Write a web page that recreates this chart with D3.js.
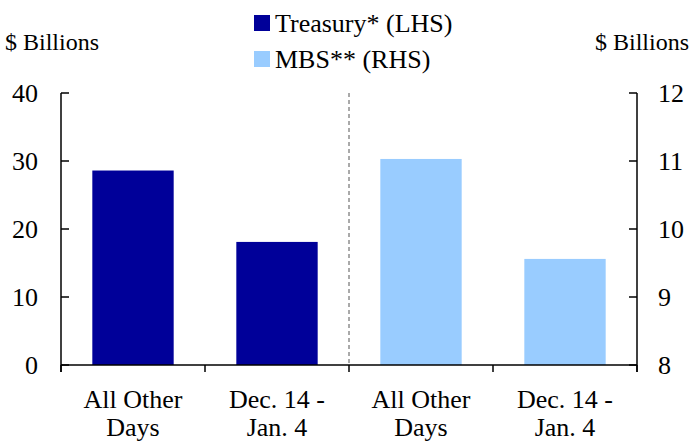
<!DOCTYPE html>
<html>
<head>
<meta charset="utf-8">
<script src="https://cdn.jsdelivr.net/npm/d3@7"></script>
</head>
<body style="margin:0">
<script>
// data
var categories = ["All Other Days", "Dec. 14 - Jan. 4"];
var categoryLines = [["All Other", "Days"], ["Dec. 14 -", "Jan. 4"]];
var treasury = [28.6, 18.1];   // LHS, $ billions
var mbs = [11.03, 9.56];       // RHS, $ billions
var leftTicks = [0, 10, 20, 30, 40];
var rightTicks = [8, 9, 10, 11, 12];
var seriesNames = ["Treasury* (LHS)", "MBS** (RHS)"];
var seriesColors = ["#000099", "#99ccff"];

var width = 689, height = 441;
var margin = { top: 93, right: 52, bottom: 76, left: 61 };
var fontFam = "'Times New Roman', 'Liberation Serif', Tinos, Times, serif";

var svg = d3.select("body").append("svg")
  .attr("width", width)
  .attr("height", height);

// one band per bar: treasury pair then mbs pair
var slots = [];
categories.forEach(function(c, i) {
  slots.push({ key: "t" + i, label: categoryLines[i], value: treasury[i], series: 0 });
});
categories.forEach(function(c, i) {
  slots.push({ key: "m" + i, label: categoryLines[i], value: mbs[i], series: 1 });
});

var x = d3.scaleBand()
  .domain(slots.map(function(d) { return d.key; }))
  .range([margin.left, width - margin.right])
  .padding(0);

var yL = d3.scaleLinear().domain([0, 40]).range([height - margin.bottom, margin.top]);
var yR = d3.scaleLinear().domain([8, 12]).range([height - margin.bottom, margin.top]);

var barW = x.bandwidth() * 0.565;

// bars
svg.selectAll(".bar")
  .data(slots)
  .enter()
  .append("rect")
  .attr("class", "bar")
  .attr("x", function(d) { return x(d.key) + (x.bandwidth() - barW) / 2; })
  .attr("width", barW)
  .attr("y", function(d) { return d.series === 0 ? yL(d.value) : yR(d.value); })
  .attr("height", function(d) {
    return d.series === 0 ? yL(0) - yL(d.value) : yR(8) - yR(d.value);
  })
  .attr("fill", function(d) { return seriesColors[d.series]; });

// dashed divider between the two groups
var midX = x("m0");
svg.append("line")
  .attr("x1", midX).attr("x2", midX)
  .attr("y1", margin.top).attr("y2", yL(0))
  .attr("stroke", "#555")
  .attr("stroke-width", 1)
  .attr("stroke-dasharray", "4,3");

// left axis
var x0 = margin.left, x1 = width - margin.right, y0 = yL(0);
svg.append("line")
  .attr("x1", x0).attr("x2", x0)
  .attr("y1", margin.top).attr("y2", y0 + 7)
  .attr("stroke", "#000").attr("stroke-width", 1.5);
svg.selectAll(".ltick")
  .data(leftTicks)
  .enter()
  .append("line")
  .attr("x1", x0).attr("x2", x0 + 8)
  .attr("y1", function(d) { return yL(d); })
  .attr("y2", function(d) { return yL(d); })
  .attr("stroke", "#000").attr("stroke-width", 1.5);
svg.selectAll(".llabel")
  .data(leftTicks)
  .enter()
  .append("text")
  .attr("x", 38)
  .attr("y", function(d) { return yL(d); })
  .attr("dy", "0.33em")
  .attr("text-anchor", "end")
  .attr("font-family", fontFam)
  .style("font-family", fontFam)
  .style("font-size", "26px")
  .text(function(d) { return d; });

// right axis
svg.append("line")
  .attr("x1", x1).attr("x2", x1)
  .attr("y1", margin.top).attr("y2", y0 + 7)
  .attr("stroke", "#000").attr("stroke-width", 1.5);
svg.selectAll(".rtick")
  .data(rightTicks)
  .enter()
  .append("line")
  .attr("x1", x1 - 8).attr("x2", x1)
  .attr("y1", function(d) { return yR(d); })
  .attr("y2", function(d) { return yR(d); })
  .attr("stroke", "#000").attr("stroke-width", 1.5);
svg.selectAll(".rlabel")
  .data(rightTicks)
  .enter()
  .append("text")
  .attr("x", 658)
  .attr("y", function(d) { return yR(d); })
  .attr("dy", "0.33em")
  .attr("text-anchor", "start")
  .attr("font-family", fontFam)
  .style("font-family", fontFam)
  .style("font-size", "26px")
  .text(function(d) { return d; });

// bottom axis with ticks at band edges
svg.append("line")
  .attr("x1", x0).attr("x2", x1)
  .attr("y1", y0).attr("y2", y0)
  .attr("stroke", "#000").attr("stroke-width", 1.5);
var edges = slots.map(function(d) { return x(d.key); }).concat([x1]);
svg.selectAll(".btick")
  .data(edges)
  .enter()
  .append("line")
  .attr("x1", function(d) { return d; })
  .attr("x2", function(d) { return d; })
  .attr("y1", y0).attr("y2", y0 + 7)
  .attr("stroke", "#000").attr("stroke-width", 1.5);

var xl = svg.selectAll(".xlabel")
  .data(slots)
  .enter()
  .append("text")
  .attr("text-anchor", "middle")
  .attr("font-family", fontFam)
  .style("font-family", fontFam)
  .style("font-size", "26px");
xl.append("tspan")
  .attr("x", function(d) { return x(d.key) + x.bandwidth() / 2; })
  .attr("y", 408)
  .text(function(d) { return d.label[0]; });
xl.append("tspan")
  .attr("x", function(d) { return x(d.key) + x.bandwidth() / 2; })
  .attr("y", 436)
  .text(function(d) { return d.label[1]; });

// axis titles
svg.append("text").attr("x", 5).attr("y", 50)
  .attr("font-family", fontFam)
  .style("font-family", fontFam)
  .style("font-size", "24px").text("$ Billions");
svg.append("text").attr("x", 689).attr("y", 50)
  .attr("text-anchor", "end")
  .attr("font-family", fontFam)
  .style("font-family", fontFam)
  .style("font-size", "24px").text("$ Billions");

// legend
var legend = svg.selectAll(".legend")
  .data(seriesNames)
  .enter()
  .append("g")
  .attr("transform", function(d, i) { return "translate(254," + (15 + i * 36) + ")"; });
legend.append("rect")
  .attr("width", 16).attr("height", 16)
  .attr("fill", function(d, i) { return seriesColors[i]; });
legend.append("text")
  .attr("x", 21).attr("y", 17)
  .attr("font-family", fontFam)
  .style("font-family", fontFam)
  .style("font-size", "26px")
  .text(function(d) { return d; });
</script>
</body>
</html>
